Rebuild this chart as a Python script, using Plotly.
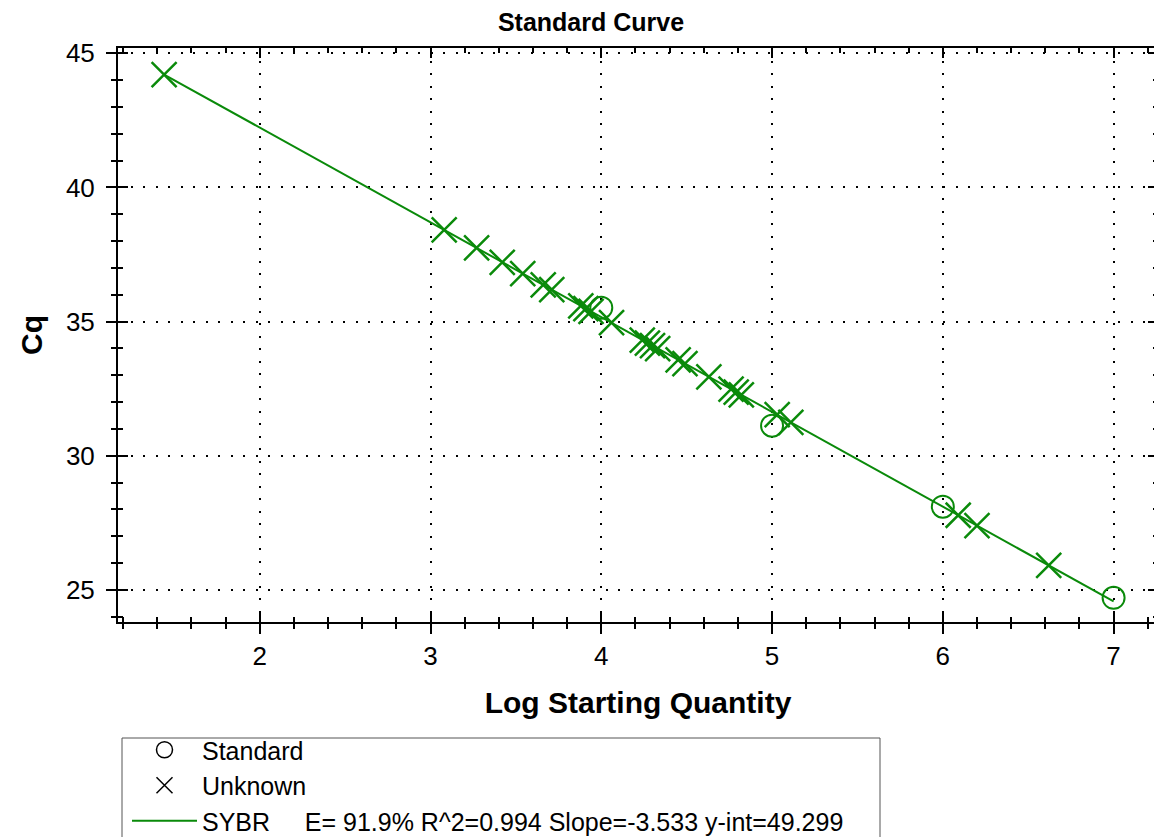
import plotly.graph_objects as go

# ---- data ----
std_log_qty = [4.0, 5.0, 6.0, 7.0]
std_cq = [35.52, 31.12, 28.10, 24.70]

unk_log_qty = [1.44, 3.08, 3.27, 3.42, 3.54, 3.66, 3.71, 3.88, 3.91, 3.94,
               4.06, 4.24, 4.27, 4.30, 4.33, 4.45, 4.49, 4.63, 4.76, 4.79,
               4.82, 5.03, 5.11, 6.09, 6.20, 6.62]
unk_cq = [44.21, 38.42, 37.75, 37.21, 36.79, 36.37, 36.19, 35.59, 35.48, 35.38,
          34.96, 34.31, 34.20, 34.10, 33.99, 33.57, 33.43, 32.94, 32.48, 32.37,
          32.27, 31.53, 31.24, 27.78, 27.39, 25.91]

fit_slope = -3.533
fit_intercept = 49.299
fit_label = "SYBR\u00a0\u00a0\u00a0\u00a0 E= 91.9% R^2=0.994 Slope=-3.533 y-int=49.299"

x_ticks = [2, 3, 4, 5, 6, 7]
y_ticks = [25, 30, 35, 40, 45]

GREEN = "#0a8a0a"
FONT = "Liberation Sans, Arial, sans-serif"

all_x = std_log_qty + unk_log_qty
fit_x = [min(all_x), max(all_x)]
fit_y = [fit_intercept + fit_slope * v for v in fit_x]

fig = go.Figure()

fig.add_trace(go.Scatter(x=fit_x, y=fit_y, mode="lines",
                         line=dict(color=GREEN, width=2), showlegend=False,
                         hoverinfo="skip"))
fig.add_trace(go.Scatter(x=unk_log_qty, y=unk_cq, mode="markers",
                         marker=dict(symbol="x-thin-open", size=25, color=GREEN,
                                     line=dict(color=GREEN, width=2.5)),
                         showlegend=False))
fig.add_trace(go.Scatter(x=std_log_qty, y=std_cq, mode="markers",
                         marker=dict(symbol="circle-open", size=22, color=GREEN,
                                     line=dict(color=GREEN, width=2)),
                         showlegend=False))

# legend-only entries (black symbols as in the reference)
fig.add_trace(go.Scatter(x=[None], y=[None], mode="markers", name="Standard",
                         marker=dict(symbol="circle-open", size=18, color="black",
                                     line=dict(color="black", width=1.5)),
                         xaxis="x2", yaxis="y2"))
fig.add_trace(go.Scatter(x=[None], y=[None], mode="markers", name="Unknown",
                         marker=dict(symbol="x-thin-open", size=18, color="black",
                                     line=dict(color="black", width=1.5)),
                         xaxis="x2", yaxis="y2"))
fig.add_trace(go.Scatter(x=[None], y=[None], mode="lines", name=fit_label,
                         line=dict(color=GREEN, width=2),
                         xaxis="x2", yaxis="y2"))

xr = [1.17, 7.26]
yr = [23.8, 45.2]
grid_dash = "2px,10.5px"

# page shows the figure offset by the 8px body margin
OFF = 8
L, R, T, B = 110, 12, 40, 223
plot_w = 1162 - L - R
plot_h = 837 - T - B


def px_to_paper_x(px):
    return (px - OFF - L) / plot_w


def px_to_paper_y(py):
    return (T + plot_h - (py - OFF)) / plot_h


fig.update_layout(
    width=1162, height=837,
    margin=dict(l=L, r=R, t=T, b=B, autoexpand=False),
    plot_bgcolor="white", paper_bgcolor="white",
    font=dict(family=FONT, color="black"),
    title=dict(text="<b>Standard Curve</b>", x=(591 - OFF) / 1162, xanchor="center",
               y=1 - 14 / 837, yanchor="middle",
               font=dict(size=25, family=FONT, color="black")),
    xaxis=dict(range=xr, tickvals=x_ticks, ticks="outside", ticklen=10,
               tickwidth=2, tickcolor="black", showline=True, linecolor="black",
               linewidth=2, mirror=True, showgrid=True, gridcolor="black",
               gridwidth=2, griddash=grid_dash, zeroline=False,
               tickfont=dict(size=26, family=FONT),
               minor=dict(dtick=0.2, tick0=0, ticks="outside", ticklen=5,
                          tickwidth=2, tickcolor="black", showgrid=False),
               title=dict(text="<b>Log Starting Quantity</b>", standoff=22,
                          font=dict(size=30, family=FONT))),
    yaxis=dict(range=yr, tickvals=y_ticks, ticks="outside", ticklen=10,
               tickwidth=2, tickcolor="black", showline=True, linecolor="black",
               linewidth=2, mirror=True, showgrid=True, gridcolor="black",
               gridwidth=2, griddash=grid_dash, zeroline=False,
               tickfont=dict(size=26, family=FONT), ticklabelstandoff=6,
               minor=dict(dtick=1, tick0=0, ticks="outside", ticklen=5,
                          tickwidth=2, tickcolor="black", showgrid=False),
               title=dict(text="<b>Cq</b>", standoff=14,
                          font=dict(size=30, family=FONT))),
    xaxis2=dict(overlaying="x", anchor="y2", range=xr, tickvals=x_ticks,
                ticks="inside", ticklen=10, tickwidth=2, tickcolor="black",
                showticklabels=False, showgrid=False, zeroline=False,
                showline=False, mirror="allticks",
                minor=dict(dtick=0.2, tick0=0, ticks="inside", ticklen=5,
                           tickwidth=2, tickcolor="black", showgrid=False)),
    yaxis2=dict(overlaying="y", anchor="x2", range=yr, tickvals=y_ticks,
                ticks="inside", ticklen=10, tickwidth=2, tickcolor="black",
                showticklabels=False, showgrid=False, zeroline=False,
                showline=False, mirror="allticks",
                minor=dict(dtick=1, tick0=0, ticks="inside", ticklen=5,
                           tickwidth=2, tickcolor="black", showgrid=False)),
    legend=dict(x=px_to_paper_x(127), xanchor="left",
                y=px_to_paper_y(727), yanchor="top",
                bgcolor="rgba(0,0,0,0)", borderwidth=0,
                font=dict(size=25, family=FONT, color="black"),
                itemwidth=65, tracegroupgap=0),
    shapes=[dict(type="rect", xref="paper", yref="paper",
                 x0=px_to_paper_x(122), x1=px_to_paper_x(880),
                 y0=px_to_paper_y(738), y1=px_to_paper_y(900),
                 line=dict(color="#555", width=1), fillcolor="white",
                 layer="above")],
    showlegend=True,
)

fig.write_html("out.html")
